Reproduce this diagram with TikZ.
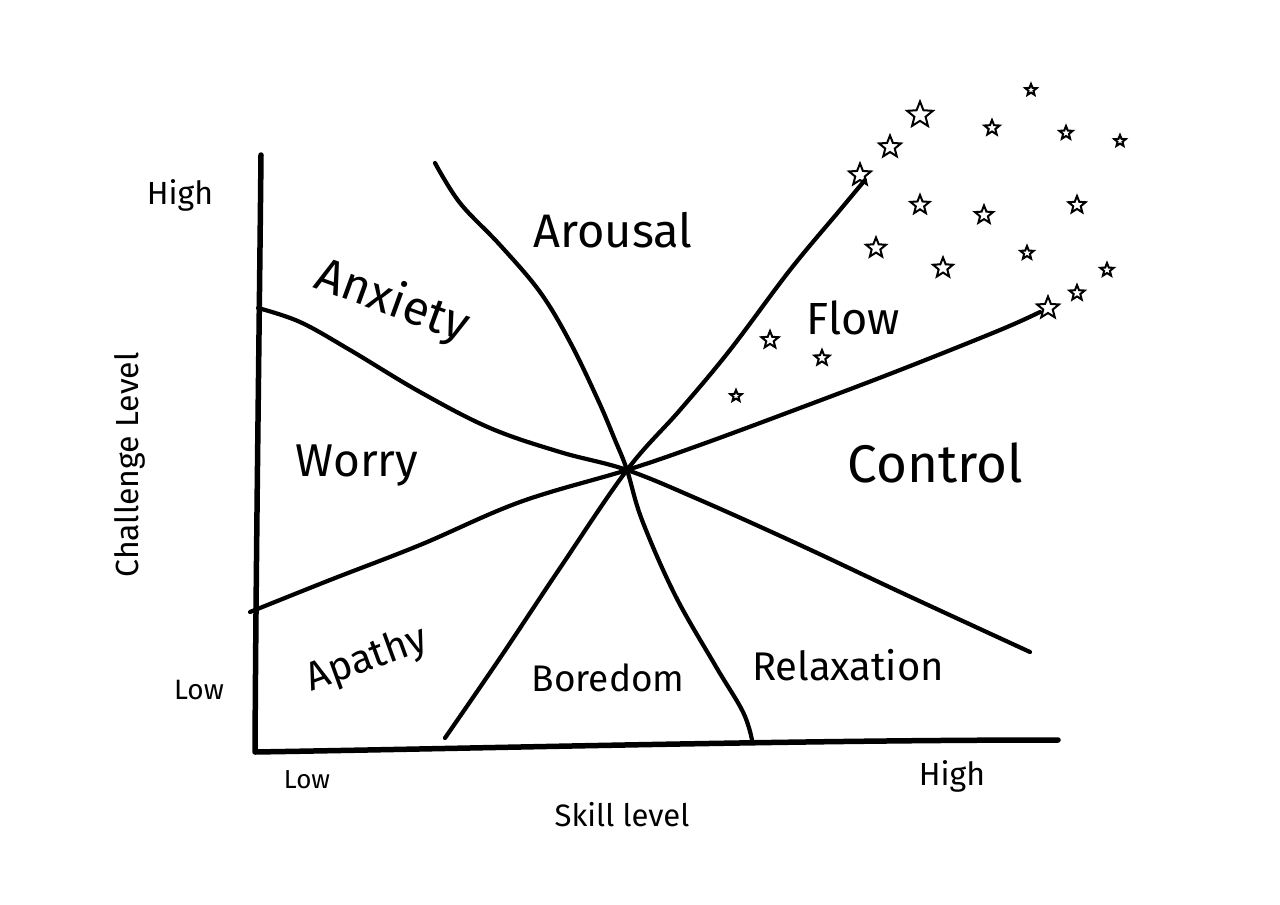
\documentclass[tikz,border=0pt]{standalone}
\usepackage{fontspec}
\setmainfont{Fira Sans}
\usetikzlibrary{shapes.geometric}
\begin{document}
\begin{tikzpicture}[x=1pt,y=-1pt,
  axisline/.style={line width=5.5pt,line cap=round,line join=round},
  zoneline/.style={line width=4.2pt,line cap=round,line join=round},
  lbl/.style={inner sep=0pt,font=\fontsize{#1}{#1}\selectfont},
  tick/.style={inner sep=0pt,font=\fontsize{#1}{#1}\selectfont},
  sparkle/.style={star,star points=5,star point ratio=2.3,draw,line width=2pt,minimum size=#1,inner sep=0pt}]
\useasboundingbox[fill=white] (0,0) rectangle (1280,905);
% axes
\coordinate (ytop) at (261,155);
\coordinate (origin) at (255,752);
\coordinate (xend) at (1058,740);
\draw[axisline] (ytop) .. controls (259,350) and (256,560) .. (origin)
  .. controls (500,748) and (800,740) .. (xend);
% centre
\coordinate (c) at (627,470);
% zone lines
\draw[zoneline] plot[smooth,tension=0.6] coordinates{(258,308) (300,322) (350,350) (420,392) (490,428) (560,452) (627,470) (700,500) (800,545) (900,592) (1030,652)};
\draw[zoneline] plot[smooth,tension=0.6] coordinates{(250,612) (330,580) (420,545) (520,502) (627,470) (700,445) (800,408) (900,370) (1000,330) (1040,312)};
\draw[zoneline] plot[smooth,tension=0.6] coordinates{(435,163) (460,203) (500,245) (540,292) (570,342) (598,400) (615,440) (627,470) (642,520) (675,595) (715,665) (743,712) (752,740)};
\draw[zoneline] plot[smooth,tension=0.6] coordinates{(445,738) (500,658) (560,568) (627,470) (680,410) (730,350) (790,270) (840,210) (865,180)};
% labels
\node[lbl=47] (arousal) at (613,230) {Arousal};
\node[lbl=48,rotate=-20] (anxiety) at (392,302) {Anxiety};
\node[lbl=46] (worry) at (357,466) {Worry};
\node[lbl=53] (control) at (935,463) {Control};
\node[lbl=45] (flow) at (853,318) {Flow};
\node[lbl=40,rotate=20] (apathy) at (367,660) {Apathy};
\node[lbl=37] (boredom) at (608,678) {Boredom};
\node[lbl=40] (relax) at (848,665) {Relaxation};
% axis ticks and titles
\node[tick=32] (yhigh) at (180,195) {High};
\node[tick=28] (ylow) at (199,690) {Low};
\node[tick=26] (xlow) at (307,780) {Low};
\node[tick=32] (xhigh) at (952,776) {High};
\node[tick=31] (xtitle) at (622,815) {Skill level};
\node[tick=32,rotate=90] (ytitle) at (130,465) {Challenge Level};
% stars
\node[sparkle=12pt] (s1) at (1031,90) {};
\node[sparkle=27pt] (s2) at (920,115) {};
\node[sparkle=23pt] (s3) at (890,147) {};
\node[sparkle=23pt] (s4) at (860,175) {};
\node[sparkle=16pt] (s5) at (992,128) {};
\node[sparkle=14pt] (s6) at (1066,133) {};
\node[sparkle=12pt] (s7) at (1120,141) {};
\node[sparkle=20pt] (s8) at (920,205) {};
\node[sparkle=19pt] (s9) at (984,215) {};
\node[sparkle=18pt] (s10) at (1077,205) {};
\node[sparkle=21pt] (s11) at (876,248) {};
\node[sparkle=21pt] (s12) at (943,268) {};
\node[sparkle=14pt] (s13) at (1027,253) {};
\node[sparkle=14pt] (s14) at (1107,270) {};
\node[sparkle=16pt] (s15) at (1077,293) {};
\node[sparkle=23pt] (s16) at (1048,308) {};
\node[sparkle=18pt] (s17) at (770,340) {};
\node[sparkle=16pt] (s18) at (822,358) {};
\node[sparkle=12pt] (s19) at (736,396) {};
\end{tikzpicture}
\end{document}
